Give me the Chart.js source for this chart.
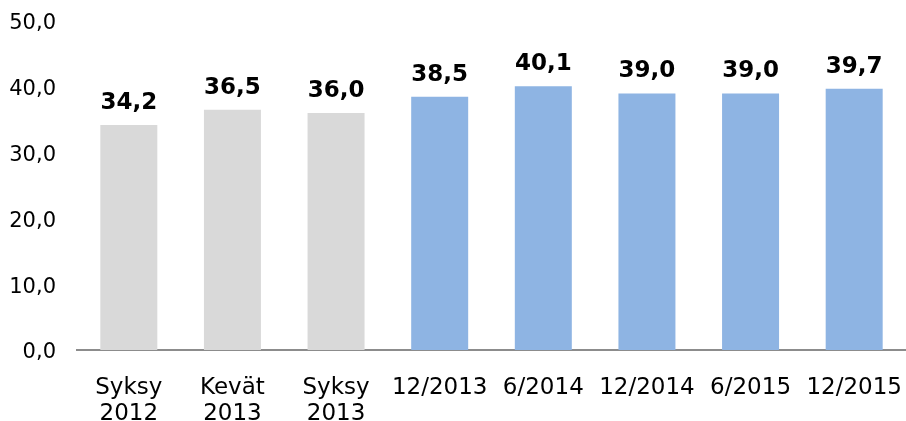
<!DOCTYPE html>
<html>
<head>
<meta charset="utf-8">
<script src="https://cdn.jsdelivr.net/npm/chart.js@4"></script>
<style>
  html, body { margin: 0; padding: 0; background: #fff; }
  #wrap { width: 906px; height: 421px; }
</style>
</head>
<body>
<div id="wrap"><canvas id="chart"></canvas></div>
<script>
const categories = [
    ['Syksy', '2012'], ['Kevät', '2013'], ['Syksy', '2013'],
    '12/2013', '6/2014', '12/2014', '6/2015', '12/2015'
];
const values = [34.2, 36.5, 36.0, 38.5, 40.1, 39.0, 39.0, 39.7];
const barColors = ['#d9d9d9', '#d9d9d9', '#d9d9d9', '#8eb4e3', '#8eb4e3', '#8eb4e3', '#8eb4e3', '#8eb4e3'];

function fmt(v) {
    return v.toFixed(1).replace('.', ',');
}

// draw value labels above bars
const valueLabels = {
    id: 'valueLabels',
    afterDatasetsDraw(chart) {
        const ctx = chart.ctx;
        const meta = chart.getDatasetMeta(0);
        ctx.save();
        ctx.font = 'bold 23px "DejaVu Sans", Verdana, sans-serif';
        ctx.fillStyle = '#000';
        ctx.textAlign = 'center';
        ctx.textBaseline = 'alphabetic';
        meta.data.forEach((bar, i) => {
            ctx.fillText(fmt(values[i]), bar.x, bar.y - 16);
        });
        ctx.restore();
    }
};

new Chart(document.getElementById('chart'), {
    type: 'bar',
    data: {
        labels: categories,
        datasets: [{
            data: values,
            backgroundColor: barColors,
            borderWidth: 0,
            categoryPercentage: 1.0,
            barPercentage: 0.55
        }]
    },
    options: {
        responsive: true,
        maintainAspectRatio: false,
        animation: false,
        layout: { padding: { top: 21, right: 0, left: 8, bottom: 0 } },
        plugins: {
            legend: { display: false },
            tooltip: { enabled: false }
        },
        scales: {
            x: {
                grid: { display: false, drawTicks: false },
                border: { display: true, color: '#8c8c8c', width: 2 },
                ticks: {
                    color: '#000',
                    font: { family: '"DejaVu Sans", Verdana, sans-serif', size: 23, lineHeight: 1.13 },
                    padding: 25,
                    maxRotation: 0,
                    autoSkip: false
                },
                afterFit(scale) {
                    scale.height = 71;
                    scale.paddingLeft = 0;
                    scale.paddingRight = 0;
                }
            },
            y: {
                min: 0,
                max: 50,
                grid: { display: false, drawTicks: false },
                border: { display: false },
                ticks: {
                    stepSize: 10,
                    color: '#000',
                    font: { family: '"DejaVu Sans", Verdana, sans-serif', size: 21, lineHeight: 1.0 },
                    padding: 21,
                    labelOffset: 3,
                    callback: v => fmt(v)
                },
                afterFit(scale) {
                    scale.width = 69;
                    scale.paddingTop = 0;
                    scale.paddingBottom = 0;
                }
            }
        }
    },
    plugins: [valueLabels]
});
</script>
</body>
</html>
